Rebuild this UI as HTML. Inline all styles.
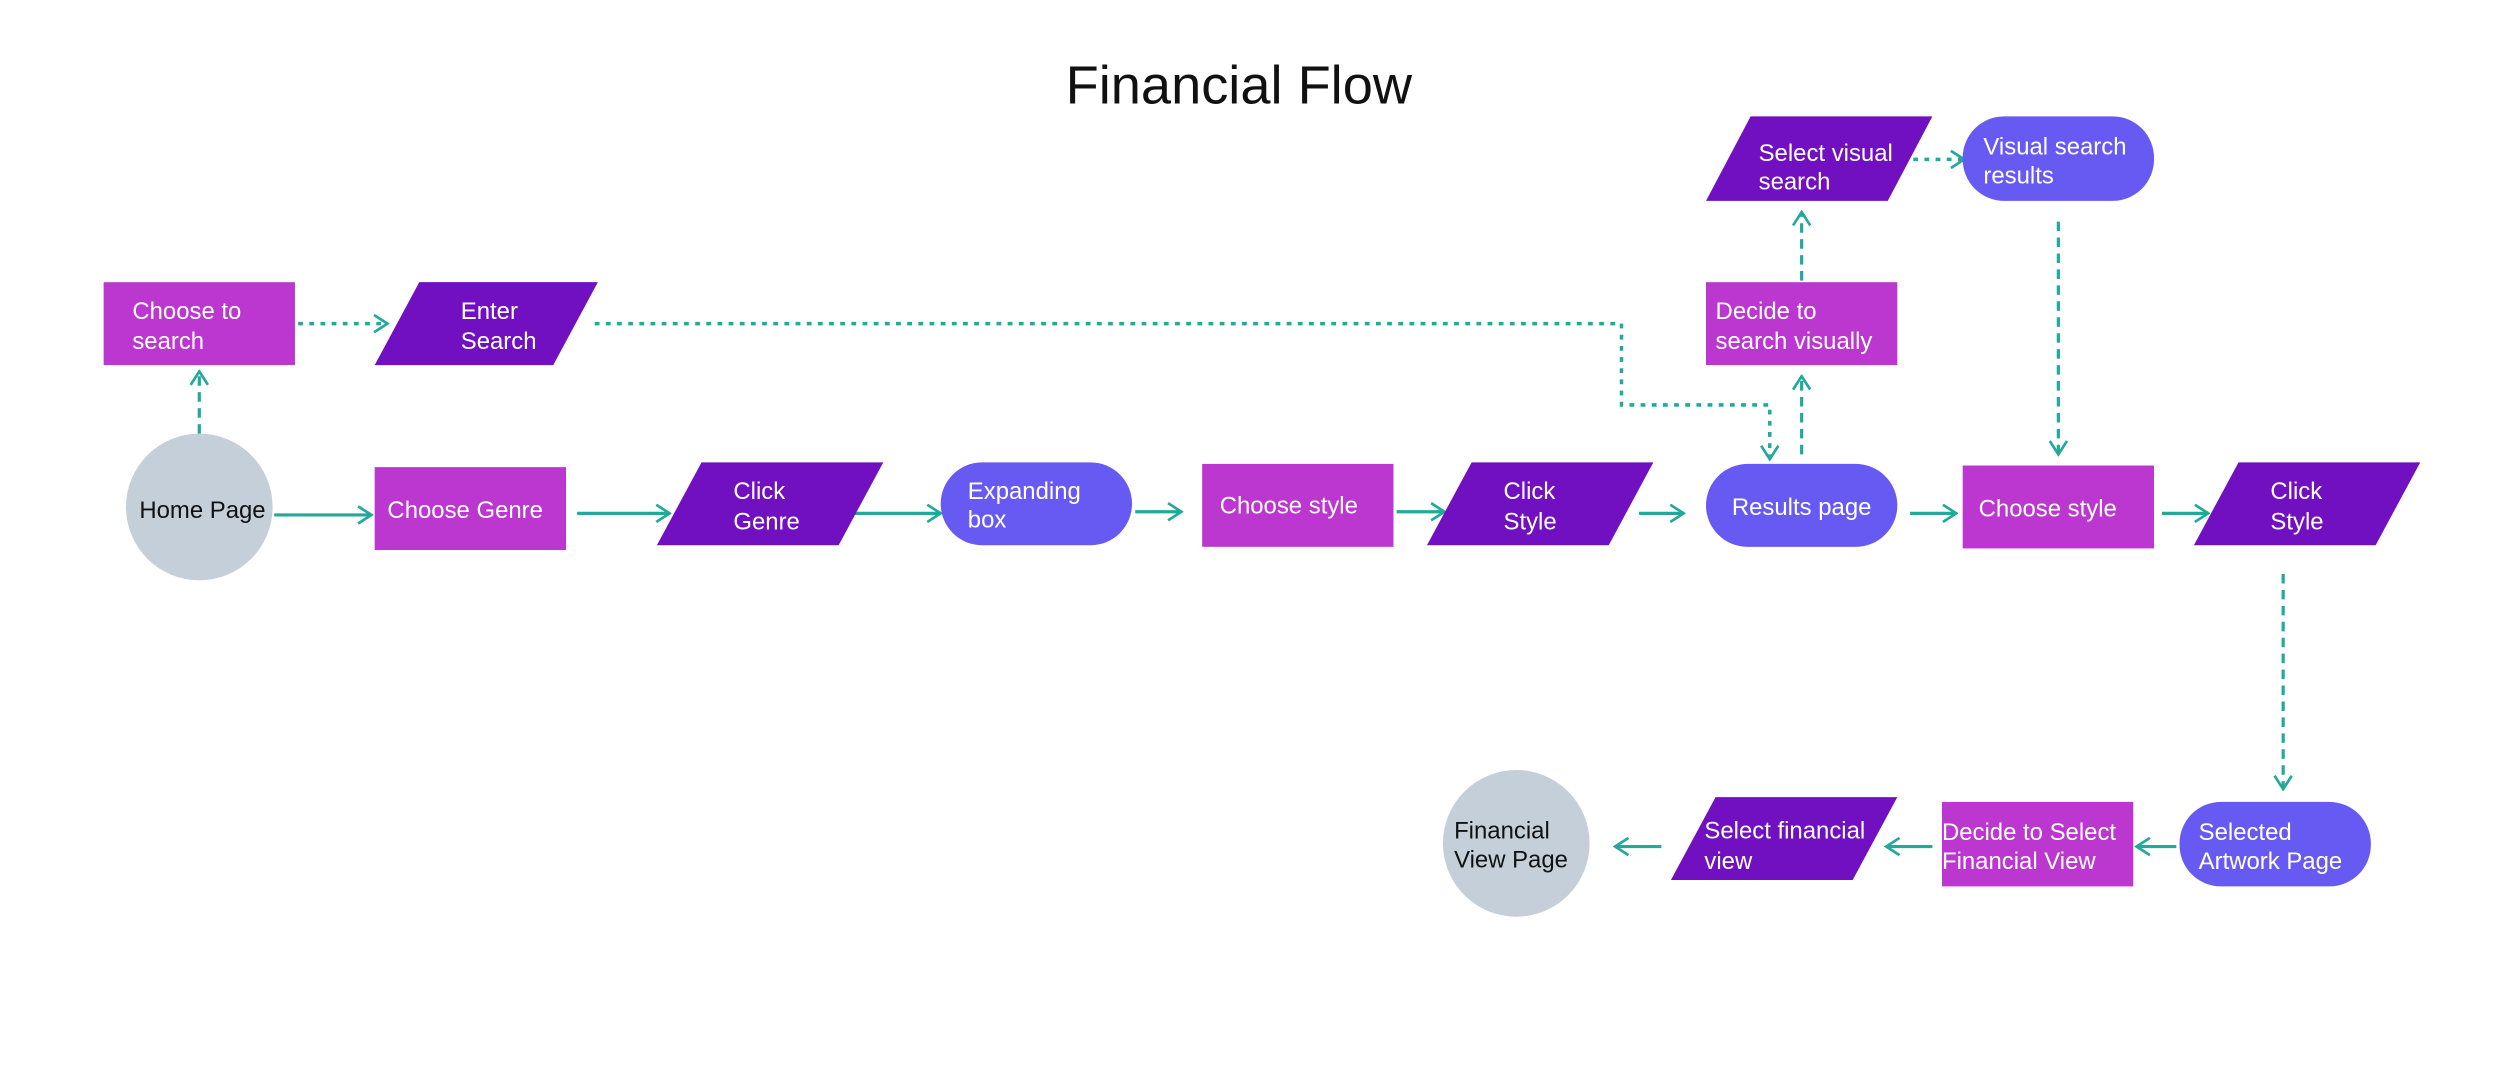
<!DOCTYPE html>
<html><head><meta charset="utf-8"><style>
html,body{margin:0;padding:0;background:#fff;}
svg{display:block;}
text{font-family:"Liberation Sans",sans-serif;}
</style></head><body>
<svg width="2500" height="1075" viewBox="0 0 1568 674.3" preserveAspectRatio="none" xmlns="http://www.w3.org/2000/svg">
<defs>
<marker id="a" viewBox="0 0 10 10" refX="9" refY="5" markerWidth="12" markerHeight="12" markerUnits="userSpaceOnUse" orient="auto">
<path d="M2,0.5 L9,5 L2,9.5" fill="none" stroke="#22a99a" stroke-width="1.4"/>
</marker>
</defs>
<rect width="1568" height="675" fill="#fff"/>
<text x="777" y="65" font-size="34" text-anchor="middle" fill="#111">Financial Flow</text>

<g fill="none" stroke="#22a99a" stroke-width="2" marker-end="url(#a)">
<path d="M172 323 H233"/>
<path d="M362 322 H420"/>
<path d="M535 322 H590"/>
<path d="M712 321 H741"/>
<path d="M876 321 H906"/>
<path d="M1028 322 H1056"/>
<path d="M1198 322 H1227"/>
<path d="M1356 322 H1385"/>
<path d="M1365 531 H1340"/>
<path d="M1212 531 H1183"/>
<path d="M1042 531 H1013"/>
</g>
<g fill="none" stroke="#22a99a" stroke-width="2" marker-end="url(#a)" stroke-dasharray="6 4">
<path d="M125 272 V233"/>
<path d="M1130 285 V236"/>
<path d="M1130 176 V133"/>
<path d="M1291 139 V285"/>
<path d="M1432 360 V495"/>
</g>
<g fill="none" stroke="#22a99a" stroke-width="2.2" marker-end="url(#a)" stroke-dasharray="3 4">
<path d="M187 203 H243"/>
<path d="M373 203 H1017 V254 H1110 V288"/>
<path d="M1200 100 H1232"/>
</g>

<g fill="#bc37cf">
<rect x="65" y="177" width="120" height="52"/>
<rect x="235" y="293" width="120" height="52"/>
<rect x="754" y="291" width="120" height="52"/>
<rect x="1231" y="292" width="120" height="52"/>
<rect x="1070" y="177" width="120" height="52"/>
<rect x="1218" y="503" width="120" height="53"/>
</g>
<g fill="#7110c0">
<polygon points="263,177 375,177 347,229 235,229"/>
<polygon points="440,290 554,290 526,342 412,342"/>
<polygon points="923,290 1037,290 1009,342 895,342"/>
<polygon points="1404,290 1518,290 1490,342 1376,342"/>
<polygon points="1098,73 1212,73 1184,126 1070,126"/>
<polygon points="1076,500 1190,500 1162,552 1048,552"/>
</g>
<g fill="#675af2">
<rect x="590" y="290" width="120" height="52" rx="26"/>
<rect x="1070" y="291" width="120" height="52" rx="26"/>
<rect x="1231" y="73" width="120" height="53" rx="26"/>
<rect x="1367" y="503" width="120" height="53" rx="26"/>
</g>
<g fill="#c4cfd9">
<ellipse cx="125" cy="318" rx="46" ry="46"/>
<ellipse cx="951" cy="529" rx="46" ry="46"/>
</g>

<g font-size="15" fill="#fff">
<text x="83" y="200">Choose to</text><text x="83" y="219">search</text>
<text x="289" y="200">Enter</text><text x="289" y="219">Search</text>
<text x="243" y="325">Choose Genre</text>
<text x="460" y="313">Click</text><text x="460" y="332">Genre</text>
<text x="607" y="313">Expanding</text><text x="607" y="331">box</text>
<text x="765" y="322">Choose style</text>
<text x="943" y="313">Click</text><text x="943" y="332">Style</text>
<text x="1130" y="323" text-anchor="middle">Results page</text>
<text x="1241" y="324">Choose style</text>
<text x="1424" y="313">Click</text><text x="1424" y="332">Style</text>
<text x="1076" y="200">Decide to</text><text x="1076" y="219">search visually</text>
<text x="1103" y="101">Select visual</text><text x="1103" y="119">search</text>
<text x="1244" y="97">Visual search</text><text x="1244" y="115">results</text>
<text x="1379" y="527">Selected</text><text x="1379" y="545">Artwork Page</text>
<text x="1218" y="527">Decide to Select</text><text x="1218" y="545">Financial View</text>
<text x="1069" y="526">Select financial</text><text x="1069" y="545">view</text>
</g>
<g font-size="15" fill="#111">
<text x="127" y="325" text-anchor="middle">Home Page</text>
<text x="912" y="526">Financial</text><text x="912" y="544">View Page</text>
</g>
</svg>
</body></html>
